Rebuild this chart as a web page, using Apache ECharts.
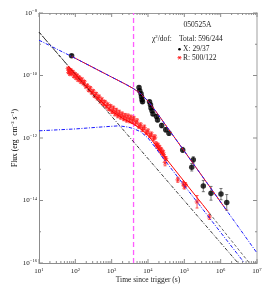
<!DOCTYPE html>
<html><head><meta charset="utf-8">
<script src="https://cdn.jsdelivr.net/npm/echarts@6/dist/echarts.min.js"></script>
<style>html,body{margin:0;padding:0;background:#fff}#c{width:270px;height:291px}</style>
</head><body><div id="c"></div>
<script>
// ---------------- data ----------------
const xTickValues = [1e1, 1e2, 1e3, 1e4, 1e5, 1e6, 1e7];
const yTickValues = [1e-16, 1e-15, 1e-14, 1e-13, 1e-12, 1e-11, 1e-10, 1e-9, 1e-8];

// X-ray data (s, erg cm^-2 s^-1), symmetric error in dex
const xrayTime = [79, 5660, 5920, 6430, 6630, 6840, 7060, 11000, 11700, 12100, 12900, 13700, 17100, 18300, 23800, 30700, 37800, 90200, 176600, 160000, 333000, 542000, 1020000, 1470000];
const xrayFlux = [4.3e-10, 4.1e-11, 3.24e-11, 2.6e-11, 2.09e-11, 1.66e-11, 1.44e-11, 1.44e-11, 1.15e-11, 9.2e-12, 7.4e-12, 5.9e-12, 4.9e-12, 3.8e-12, 2.5e-12, 1.82e-12, 1.43e-12, 4.16e-13, 2.0e-13, 1.16e-13, 2.9e-14, 1.7e-14, 1.6e-14, 8.7e-15];
const xrayErr = [0.04, 0.05, 0.05, 0.05, 0.05, 0.05, 0.05, 0.05, 0.05, 0.05, 0.05, 0.05, 0.06, 0.06, 0.07, 0.07, 0.07, 0.08, 0.1, 0.12, 0.18, 0.22, 0.18, 0.25];

// R-band data
const rTime = [63, 65, 68, 71, 74, 79, 85, 91, 98, 105, 112, 120, 129, 141, 151, 166, 178, 195, 214, 234, 257, 282, 309, 339, 372, 407, 447, 490, 537, 589, 646, 708, 776, 851, 933,
  1023, 1122, 1230, 1349, 1479, 1622, 1778, 1950, 2138, 2344, 2570, 2818, 3090, 3388, 3715, 4074, 4571, 5012, 5623, 6310, 7079, 7943, 8913, 10000, 11220, 12590, 14130, 15490,
  16600, 17580, 18620, 19720, 20890, 22130, 23440, 24830, 26300, 27860, 29510, 30900,
  66070, 93300, 100000, 107200, 223900, 489800];
const rFlux = [1.66e-10, 1.26e-10, 1.45e-10, 1.12e-10, 1.51e-10, 1.17e-10, 1.32e-10, 9.5e-11, 1.12e-10, 8.3e-11, 1.0e-10, 7.2e-11, 8.7e-11, 6.3e-11, 7.6e-11, 5.5e-11, 6.3e-11, 4.4e-11, 4.8e-11, 3.4e-11, 4.0e-11, 2.8e-11, 3.2e-11, 2.2e-11, 2.6e-11, 1.82e-11, 2.14e-11, 1.45e-11, 1.74e-11, 1.2e-11, 1.45e-11, 1.0e-11, 1.2e-11, 8.3e-12, 1.05e-11,
  7.1e-12, 8.9e-12, 6.0e-12, 7.6e-12, 5.2e-12, 6.6e-12, 4.7e-12, 5.8e-12, 4.2e-12, 5.2e-12, 3.8e-12, 5.0e-12, 3.6e-12, 4.6e-12, 3.4e-12, 4.2e-12, 3.0e-12, 3.5e-12, 2.4e-12, 2.6e-12, 1.9e-12, 2.2e-12, 1.5e-12, 1.66e-12, 1.2e-12, 1.32e-12, 9.5e-13, 1.07e-12,
  6.6e-13, 5.5e-13, 6.0e-13, 4.6e-13, 5.0e-13, 3.8e-13, 4.2e-13, 3.2e-13, 3.5e-13, 2.6e-13, 1.62e-13, 2.2e-13,
  4.6e-14, 3.5e-14, 2.75e-14, 3.2e-14, 9.1e-15, 3.0e-15];
const rErr = [0.04, 0.04, 0.04, 0.04, 0.04, 0.04, 0.04, 0.04, 0.04, 0.04, 0.04, 0.04, 0.04, 0.04, 0.04, 0.04, 0.04, 0.04, 0.04, 0.04, 0.04, 0.04, 0.04, 0.04, 0.04, 0.04, 0.04, 0.04, 0.04, 0.04, 0.04, 0.04, 0.04, 0.04, 0.04,
  0.07, 0.07, 0.07, 0.07, 0.07, 0.07, 0.07, 0.07, 0.07, 0.07, 0.07, 0.07, 0.07, 0.07, 0.07, 0.07, 0.07, 0.07, 0.07, 0.07, 0.07, 0.07, 0.07, 0.07, 0.07, 0.07, 0.07, 0.07,
  0.06, 0.06, 0.06, 0.06, 0.06, 0.06, 0.06, 0.06, 0.06, 0.06, 0.1, 0.06,
  0.08, 0.07, 0.07, 0.07, 0.2, 0.08];

// model curves (knots)
const rsTime = [10, 3.0e6];
const rsFlux = [2.45e-9, 1e-16];
const fsRTime = [10, 100, 630, 1580, 2820, 3980, 6310, 10000, 15850, 26300, 50100, 100000, 316000, 1.0e6, 4.37e6];
const fsRFlux = [1.70e-12, 1.95e-12, 2.29e-12, 2.45e-12, 2.24e-12, 2.0e-12, 1.58e-12, 1.0e-12, 5.0e-13, 2.24e-13, 8.5e-14, 3.0e-14, 5.4e-15, 9.5e-16, 1.05e-16];
const rTotTime = [63, 100, 316, 1000, 2000, 3980, 6310, 10000, 15850, 26300, 50100, 100000, 316000, 489800];
const rTotFlux = [2.06e-10, 1.11e-10, 2.54e-11, 7.3e-12, 4.28e-12, 2.76e-12, 2.0e-12, 1.22e-12, 6.2e-13, 2.84e-13, 1.10e-13, 4.0e-14, 7.5e-15, 3.94e-15];
const rExtEarlyTime = [10, 63];
const rExtEarlyFlux = [2.45e-9, 2.06e-10];
const rExtLateTime = [489800, 1.0e6, 1.81e6, 3.16e6, 6.3e6];
const rExtLateFlux = [3.94e-15, 1.40e-15, 5.9e-16, 2.63e-16, 9.7e-17];
const xModTime = [10, 100, 1000, 1585, 2512, 3981, 6310, 10000, 15850, 31620, 100000, 1.0e6, 1.0e7];
const xModFlux = [1.35e-9, 3.55e-10, 8.9e-11, 6.76e-11, 5.13e-11, 3.80e-11, 2.63e-11, 1.51e-11, 7.6e-12, 2.45e-12, 3.8e-13, 8.9e-15, 2.09e-16];
const xTotTime = [79, 100, 1000, 1585, 2512, 3981, 6310, 10000, 15850, 31620, 100000, 1.0e6, 1.47e6];
const xTotFlux = [4.07e-10, 3.55e-10, 8.9e-11, 6.76e-11, 5.13e-11, 3.80e-11, 2.63e-11, 1.51e-11, 7.6e-12, 2.45e-12, 3.8e-13, 8.9e-15, 4.8e-15];
const tDivide = 4000;

// ---------------- chart ----------------
const FONT = '"Liberation Serif", "Times New Roman", serif';
const TXT = '#1a1a1a';
const pairs = (a, b) => a.map((v, i) => [v, b[i]]);
const rich = {
  b: {fontFamily: FONT, fontSize: 7, color: TXT, lineHeight: 9},
  s: {fontFamily: FONT, fontSize: 4.6, color: TXT, verticalAlign: 'top', lineHeight: 5}
};
const expLabel = v => {
  const e = Math.round(Math.log10(v));
  return '{b|10}{s|' + (e < 0 ? '\u2212' + (-e) : e) + '}';
};
const yLabel = v => {
  const e = Math.round(Math.log10(v));
  return (e % 2 === 0) ? expLabel(v) : '';
};

const ticks = [];
xTickValues.forEach((t, i) => {
  ticks.push([t, 1e-16, 0, 4], [t, 1e-8, 1, 4]);
  if (i < xTickValues.length - 1) for (let k = 2; k <= 9; k++) ticks.push([k * t, 1e-16, 0, 2], [k * t, 1e-8, 1, 2]);
});
yTickValues.forEach(v => {
  const e = Math.round(Math.log10(v));
  const L = (e % 2 === 0) ? 4 : 2;
  ticks.push([10, v, 2, L], [1e7, v, 3, L]);
});

const errData = (t, f, e) => t.map((v, i) => [v, f[i] / Math.pow(10, e[i]), f[i] * Math.pow(10, e[i])]);
const errSeries = (data, color, z) => ({
  type: 'custom', data, z, silent: true, clip: true,
  encode: {x: 0, y: [1, 2]},
  renderItem: (params, api) => {
    const a = api.coord([api.value(0), api.value(1)]);
    const b = api.coord([api.value(0), api.value(2)]);
    const st = {stroke: color, lineWidth: 0.8};
    return {type: 'group', children: [
      {type: 'line', shape: {x1: a[0], y1: a[1], x2: b[0], y2: b[1]}, style: st},
      {type: 'line', shape: {x1: a[0] - 1.5, y1: a[1], x2: a[0] + 1.5, y2: a[1]}, style: st},
      {type: 'line', shape: {x1: b[0] - 1.5, y1: b[1], x2: b[0] + 1.5, y2: b[1]}, style: st}
    ]};
  }
});
const lineSeries = (t, f, color, type, width, z) => ({
  type: 'line', data: pairs(t, f), symbol: 'none', showSymbol: false, silent: true, clip: true, z,
  lineStyle: {color, type, width}
});
const STAR = 'path://M4.3,0L5.7,0L5.7,10L4.3,10Z M0,4.3L10,4.3L10,5.7L0,5.7Z M1.0,2.0L2.0,1.0L9.0,8.0L8.0,9.0Z M8.0,1.0L9.0,2.0L2.0,9.0L1.0,8.0Z';
const DASHDOT = [3.5, 1.5, 1, 1.5];

const option = {
  animation: false,
  grid: {left: 39, right: 13, top: 13, bottom: 28},
  xAxis: [
    {type: 'log', logBase: 10, min: 10, max: 1e7, position: 'bottom', splitNumber: 6,
     axisLine: {show: true, lineStyle: {color: '#8c8c8c', width: 1}}, axisTick: {show: false}, splitLine: {show: false},
     axisLabel: {formatter: expLabel, rich, margin: 4}},
    {type: 'log', logBase: 10, min: 10, max: 1e7, position: 'top',
     axisLine: {show: true, lineStyle: {color: '#9a9a9a', width: 1}}, axisTick: {show: false}, splitLine: {show: false}, axisLabel: {show: false}}
  ],
  yAxis: [
    {type: 'log', logBase: 10, min: 1e-16, max: 1e-8, position: 'left', splitNumber: 8,
     axisLine: {show: true, lineStyle: {color: '#8c8c8c', width: 1}}, axisTick: {show: false}, splitLine: {show: false},
     axisLabel: {formatter: yLabel, rich, margin: 2}},
    {type: 'log', logBase: 10, min: 1e-16, max: 1e-8, position: 'right',
     axisLine: {show: true, lineStyle: {color: '#cfcfcf', width: 2}}, axisTick: {show: false}, splitLine: {show: false}, axisLabel: {show: false}}
  ],
  series: [
    {type: 'custom', data: ticks, silent: true, clip: false, z: 1,
     renderItem: (params, api) => {
       const p = api.coord([api.value(0), api.value(1)]);
       const side = api.value(2), len = api.value(3);
       let dx = 0, dy = 0;
       if (side === 0) dy = -len; else if (side === 1) dy = len; else if (side === 2) dx = len; else dx = -len;
       return {type: 'line', shape: {x1: p[0], y1: p[1], x2: p[0] + dx, y2: p[1] + dy}, style: {stroke: '#8c8c8c', lineWidth: 1}};
     }},
    lineSeries([tDivide, tDivide], [1e-16, 1e-8], '#ff5cff', [5, 3], 1.3, 2),
    errSeries(errData(rTime, rFlux, rErr), '#ff3030', 3),
    {type: 'scatter', data: pairs(rTime, rFlux), symbol: STAR, symbolSize: 5, itemStyle: {color: '#ff1a1a'}, silent: true, z: 4},
    errSeries(errData(xrayTime, xrayFlux, xrayErr), '#555555', 3),
    {type: 'scatter', data: pairs(xrayTime, xrayFlux), symbol: 'circle', symbolSize: 5.5, itemStyle: {color: '#000'}, silent: true, z: 4},
    lineSeries(rsTime, rsFlux, '#222222', DASHDOT, 0.9, 5),
    lineSeries(fsRTime, fsRFlux, '#1a1aff', DASHDOT, 1, 5),
    lineSeries(rTotTime, rTotFlux, '#ff0000', 'solid', 1, 6),
    lineSeries(rExtEarlyTime, rExtEarlyFlux, '#333333', [3, 2], 0.9, 6),
    lineSeries(rExtLateTime, rExtLateFlux, '#555555', [3, 2], 0.9, 6),
    lineSeries(xTotTime, xTotFlux, '#ff0000', 'solid', 1, 6),
    lineSeries(xModTime, xModFlux, '#1a1aff', DASHDOT, 1, 7)
  ],
  graphic: [
    {type: 'text', x: 197.5, y: 25.5, style: {text: '050525A', fontFamily: FONT, fontSize: 7.5, fill: TXT, align: 'center', verticalAlign: 'middle'}},
    {type: 'text', x: 152, y: 39, style: {text: '{a|\u03c7}{s|2}{a|/dof:}', align: 'left', verticalAlign: 'middle',
      rich: {a: {fontFamily: FONT, fontSize: 7.5, fill: TXT, color: TXT, lineHeight: 9}, s: {fontFamily: FONT, fontSize: 4.8, color: TXT, verticalAlign: 'top', lineHeight: 5}}}},
    {type: 'text', x: 179, y: 39, style: {text: 'Total: 596/244', fontFamily: FONT, fontSize: 7.5, fill: TXT, align: 'left', verticalAlign: 'middle'}},
    {type: 'circle', shape: {cx: 179.5, cy: 49.3, r: 1.3}, style: {fill: '#000'}},
    {type: 'text', x: 183, y: 49.5, style: {text: 'X: 29/37', fontFamily: FONT, fontSize: 7.5, fill: TXT, align: 'left', verticalAlign: 'middle'}},
    {type: 'group', x: 179.5, y: 57.7, children: [
      {type: 'line', shape: {x1: -2, y1: 0, x2: 2, y2: 0}, style: {stroke: '#ff1a1a', lineWidth: 0.9}},
      {type: 'line', shape: {x1: -1, y1: -1.7, x2: 1, y2: 1.7}, style: {stroke: '#ff1a1a', lineWidth: 0.9}},
      {type: 'line', shape: {x1: 1, y1: -1.7, x2: -1, y2: 1.7}, style: {stroke: '#ff1a1a', lineWidth: 0.9}}
    ]},
    {type: 'text', x: 183, y: 57.7, style: {text: 'R: 500/122', fontFamily: FONT, fontSize: 7.5, fill: TXT, align: 'left', verticalAlign: 'middle'}},
    {type: 'text', x: 148, y: 280.5, style: {text: 'Time since trigger (s)', fontFamily: FONT, fontSize: 7.5, fill: TXT, align: 'center', verticalAlign: 'middle'}},
    {type: 'text', x: 15, y: 138, rotation: Math.PI / 2, style: {text: '{a|Flux (erg  cm}{s|\u22122}{a| s}{s|\u22121}{a|)}', align: 'center', verticalAlign: 'middle',
      rich: {a: {fontFamily: FONT, fontSize: 7.5, color: TXT, lineHeight: 9}, s: {fontFamily: FONT, fontSize: 4.8, color: TXT, verticalAlign: 'top', lineHeight: 5}}}}
  ]
};
const chart = echarts.init(document.getElementById('c'), null, {renderer: 'canvas', width: 270, height: 291});
chart.setOption(option);
</script>
</body></html>
